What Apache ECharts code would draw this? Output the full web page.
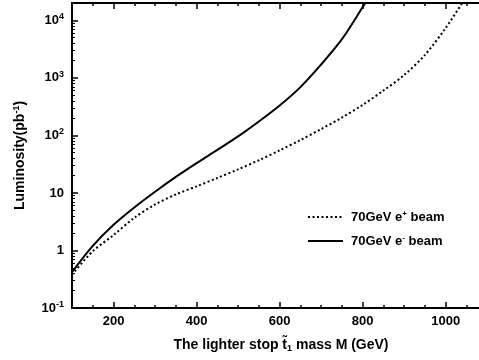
<!DOCTYPE html>
<html>
<head>
<meta charset="utf-8">
<script src="https://cdn.jsdelivr.net/npm/echarts/dist/echarts.min.js"></script>
<style>
html, body { margin: 0; padding: 0; background: #fff; }
#main { width: 479px; height: 360px; }
</style>
</head>
<body>
<div id="main"></div>
<script>
// stop mass M (GeV)
var mass = [100, 150, 200, 250, 300, 350, 400, 450, 500, 550, 600, 650, 700, 750, 800, 810, 850, 900, 950, 1000, 1050];
// 70GeV e+ beam (dotted)
var lumiPositron = [0.38, 0.97, 1.85, 3.7, 6.3, 9.4, 13, 18.2, 25.7, 37, 55, 83, 129, 204, 339, null, 603, 1120, 2510, 7400, 26300];
// 70GeV e- beam (solid)
var lumiElectron = [0.42, 1.2, 2.8, 5.6, 10.5, 19, 33, 56, 96, 174, 330, 690, 1710, 4700, 17000, 22000, null, null, null, null, null];

var xMajorTicks = [200, 400, 600, 800, 1000];
var xMinorTicks = [150, 250, 300, 350, 450, 500, 550, 650, 700, 750, 850, 900, 950, 1050];
var yMajorTicks = [0.1, 1, 10, 100, 1000, 10000];
var yTickLabels = ['10{sup|-1}', '1', '10', '10{sup|2}', '10{sup|3}', '10{sup|4}'];
var yMinorTicks = [0.2, 0.3, 0.4, 0.5, 0.6, 0.7, 0.8, 0.9,
    2, 3, 4, 5, 6, 7, 8, 9,
    20, 30, 40, 50, 60, 70, 80, 90,
    200, 300, 400, 500, 600, 700, 800, 900,
    2000, 3000, 4000, 5000, 6000, 7000, 8000, 9000,
    20000];

function pairs(ys) {
    var out = [];
    for (var i = 0; i < mass.length; i++) {
        if (ys[i] != null) out.push([mass[i], ys[i]]);
    }
    return out;
}

var myChart = echarts.init(document.getElementById('main'));
var font = 'Liberation Sans, Arial, sans-serif';
var supStyle = { fontSize: 9, fontWeight: 'bold', fontFamily: font, color: '#000', verticalAlign: 'top', lineHeight: 10 };
var subStyle = { fontSize: 9, fontWeight: 'bold', fontFamily: font, color: '#000', verticalAlign: 'bottom', lineHeight: 10 };
var axisLine = { show: true, onZero: false, lineStyle: { color: '#000', width: 2 } };

function xAxisBase(pos, major) {
    return {
        type: 'value',
        position: pos,
        min: 100,
        max: 1080,
        axisLine: axisLine,
        axisTick: {
            show: true,
            inside: true,
            length: major ? 6 : 3,
            customValues: major ? xMajorTicks : xMinorTicks,
            lineStyle: { color: '#000', width: 1.5 }
        },
        axisLabel: { show: false },
        splitLine: { show: false }
    };
}

var xBottom = xAxisBase('bottom', true);
xBottom.axisLabel = {
    show: true,
    customValues: xMajorTicks,
    margin: 7,
    color: '#000',
    fontSize: 13,
    fontWeight: 'bold',
    fontFamily: font,
    formatter: function (v) { return String(v); }
};
xBottom.name = 'The lighter stop t\u0303{sub|1} mass M (GeV)';
xBottom.nameLocation = 'middle';
xBottom.nameGap = 29;
xBottom.nameTextStyle = {
    color: '#000', fontSize: 14, fontWeight: 'bold', fontFamily: font, lineHeight: 16,
    padding: [0, 0, 0, 11],
    rich: { sub: subStyle }
};

option = {
    backgroundColor: '#fff',
    animation: false,
    grid: { left: 72, right: 0, top: 3, bottom: 52 },
    legend: {
        orient: 'vertical',
        left: 302,
        top: 205,
        itemWidth: 35,
        itemHeight: 14,
        itemGap: 10,
        data: ['e+', 'e-'],
        itemStyle: { opacity: 0 },
        formatter: function (name) {
            return name == 'e+' ? '70GeV e{sup|+} beam' : '70GeV e{sup|-} beam';
        },
        textStyle: {
            color: '#000', fontSize: 13, fontWeight: 'bold', fontFamily: font, lineHeight: 14,
            padding: [0, 0, 0, 3],
            rich: { sup: { fontSize: 8, fontWeight: 'bold', fontFamily: font, color: '#000', verticalAlign: 'top', lineHeight: 9 } }
        }
    },
    xAxis: [
        xAxisBase('bottom', false),
        xBottom,
        xAxisBase('top', false),
        xAxisBase('top', true)
    ],
    yAxis: [
        {
            type: 'log',
            logBase: 10,
            min: 0.1,
            max: 20000,
            position: 'left',
            axisLine: axisLine,
            axisTick: {
                show: true, inside: true, length: 6,
                customValues: yMajorTicks,
                lineStyle: { color: '#000', width: 1.5 }
            },
            axisLabel: {
                show: true,
                customValues: yMajorTicks,
                margin: 8,
                color: '#000',
                fontSize: 13,
                fontWeight: 'bold',
                fontFamily: font,
                lineHeight: 16,
                formatter: function (val) {
                    for (var i = 0; i < yMajorTicks.length; i++) {
                        if (Math.abs(Math.log10(val) - Math.log10(yMajorTicks[i])) < 0.01) return yTickLabels[i];
                    }
                    return '';
                },
                rich: { sup: supStyle }
            },
            splitLine: { show: false },
            name: 'Luminosity(pb{sup|-1})',
            nameLocation: 'middle',
            nameGap: 44,
            nameTextStyle: {
                color: '#000', fontSize: 14, fontWeight: 'bold', fontFamily: font, lineHeight: 16,
                rich: { sup: supStyle }
            }
        },
        {
            type: 'log',
            logBase: 10,
            min: 0.1,
            max: 20000,
            position: 'left',
            axisLine: { show: false },
            axisTick: {
                show: true, inside: true, length: 3,
                customValues: yMinorTicks,
                lineStyle: { color: '#000', width: 1 }
            },
            axisLabel: { show: false },
            splitLine: { show: false }
        }
    ],
    series: [
        {
            name: 'e+',
            type: 'line',
            xAxisIndex: 1,
            yAxisIndex: 0,
            data: pairs(lumiPositron),
            smooth: 0.3,
            symbol: 'none',
            clip: true,
            lineStyle: { color: '#000', width: 2, type: [2, 2.5] },
            itemStyle: { color: '#000' }
        },
        {
            name: 'e-',
            type: 'line',
            xAxisIndex: 1,
            yAxisIndex: 0,
            data: pairs(lumiElectron),
            smooth: 0.3,
            symbol: 'none',
            clip: true,
            lineStyle: { color: '#000', width: 2 },
            itemStyle: { color: '#000' }
        }
    ]
};
myChart.setOption(option);
</script>
</body>
</html>
